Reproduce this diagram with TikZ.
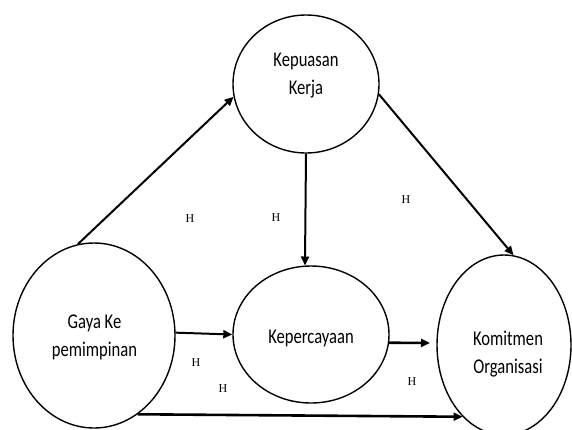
\documentclass[tikz,border=0pt]{standalone}
\usepackage{fontspec}
\setmainfont{Liberation Serif}
\newfontfamily\varfont[FakeStretch=0.79]{Carlito}
\usetikzlibrary{arrows.meta, shapes.geometric}

\begin{document}
\begin{tikzpicture}[x=1pt, y=-1pt,
    var/.style={draw, ellipse, line width=1.4pt, inner sep=0pt},
    vartext/.style={align=center, inner sep=0pt,
                    font=\varfont\fontsize{21}{28}\selectfont},
    hyp/.style={font=\fontsize{12}{14}\selectfont, inner sep=0pt},
    arr/.style={-{Triangle[length=9pt, width=8pt]}, line width=2pt},
    thickarr/.style={arr, line width=2.6pt}]
  \useasboundingbox (0,0) rectangle (572,429);
  % variables
  \node[var, minimum width=162pt, minimum height=185pt] (gaya) at (94,335.5) {};
  \node[var, minimum width=146pt, minimum height=138pt] (kepuasan) at (306,84) {};
  \node[var, minimum width=156pt, minimum height=137pt] (kepercayaan) at (311,334.5) {};
  \node[var, minimum width=134pt, minimum height=180pt] (komitmen) at (504,345) {};
  \node[vartext] (gaya-txt) at (94.5,337) {Gaya Ke\\pemimpinan};
  \node[vartext] (kepuasan-txt) at (306,76) {Kepuasan\\Kerja};
  \node[vartext] (kepercayaan-txt) at (311,338) {Kepercayaan};
  \node[vartext] (komitmen-txt) at (508,354) {Komitmen\\Organisasi};
  % hypotheses
  \foreach \x/\y [count=\i] in {190/219, 276/218, 406/200, 196/363, 223/389, 412/382}
    \node[hyp] (h\i) at (\x,\y) {H};
  % paths
  \coordinate (kepercayaan-end) at (430,343);
  \draw[arr] (gaya.100) -- (kepuasan.190);
  \draw[arr] (kepuasan.south) -- (kepercayaan.95);
  \draw[arr] (kepuasan.-8) -- (komitmen.84);
  \draw[arr] (gaya.2) -- (kepercayaan.180);
  \draw[thickarr] (kepercayaan.-6) -- (kepercayaan-end);
  \draw[thickarr] (gaya.-61) -- (komitmen.240);
\end{tikzpicture}
\end{document}
